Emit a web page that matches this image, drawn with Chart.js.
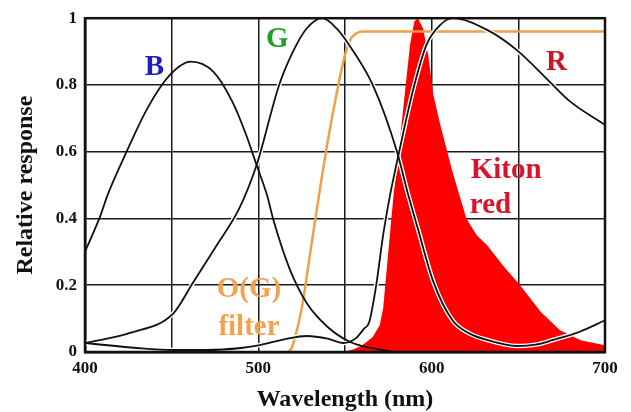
<!DOCTYPE html>
<html>
<head>
<meta charset="utf-8">
<script src="https://cdn.jsdelivr.net/npm/chart.js@4.4.0/dist/chart.umd.min.js"></script>
<style>
  html, body { margin: 0; padding: 0; background: #fff; }
</style>
</head>
<body>
<canvas id="spectra" width="631" height="412"></canvas>
<script>
// Camera channel sensitivities (B, G, R), O(G) filter and Kiton red emission
const bNm  = [400, 409, 413, 424, 436, 449, 461, 474, 485, 493, 499, 505, 509, 518, 528, 540, 553, 565, 578]
const bVal = [0.30, 0.41, 0.47, 0.60, 0.73, 0.83, 0.87, 0.84, 0.75, 0.65, 0.56, 0.47, 0.39, 0.25, 0.146, 0.075, 0.03, 0.012, 0.0]

const gNm  = [400, 426, 451, 462, 476, 489, 499, 512, 520, 528, 537, 545, 551, 566, 580, 586, 592, 601, 612, 622, 632, 649, 660, 670, 685, 700]
const gVal = [0.027, 0.057, 0.116, 0.205, 0.32, 0.43, 0.56, 0.80, 0.90, 0.97, 1.0, 0.97, 0.93, 0.80, 0.60, 0.48, 0.37, 0.21, 0.095, 0.055, 0.036, 0.018, 0.022, 0.036, 0.06, 0.095]

const rNm  = [400, 430, 451, 470, 490, 500, 515, 528, 540, 549, 556, 561, 564, 568, 572, 576, 580, 585, 590, 597, 605, 612, 632, 649, 668, 680, 700]
const rVal = [0.027, 0.012, 0.006, 0.006, 0.012, 0.02, 0.038, 0.048, 0.04, 0.027, 0.04, 0.07, 0.09, 0.2, 0.35, 0.47, 0.57, 0.69, 0.80, 0.92, 0.98, 1.0, 0.965, 0.905, 0.81, 0.75, 0.68]

const filterNm  = [517, 519, 521, 525, 530, 535, 540, 545, 550, 553, 556, 560, 700]
const filterVal = [0, 0.01, 0.04, 0.13, 0.30, 0.47, 0.63, 0.77, 0.89, 0.935, 0.953, 0.96, 0.96]

const kitonNm  = [549, 555, 560, 566, 570, 572, 575, 578, 581, 584, 587.5, 590, 592, 595, 598, 601, 605, 609, 612, 616, 620, 626, 632, 641, 651, 663, 674, 686, 700]
const kitonVal = [0, 0.008, 0.02, 0.045, 0.08, 0.13, 0.30, 0.47, 0.60, 0.75, 0.92, 0.99, 1.0, 0.97, 0.89, 0.77, 0.68, 0.60, 0.54, 0.47, 0.40, 0.35, 0.32, 0.26, 0.20, 0.12, 0.065, 0.035, 0.02]

const xTicks = [400, 500, 600, 700]

// text placed in data units: [text, nm, response, colour, align]
const notes = [
  ['B', 440, 0.83, '#1c1cc8', 'center'],
  ['G', 511, 0.914, '#1e9e2a', 'center'],
  ['R', 672, 0.845, '#cc1428', 'center'],
  ['Kiton', 622.5, 0.52, '#d9132b', 'left'],
  ['red', 622, 0.417, '#d9132b', 'left'],
  ['O(G)', 494.6, 0.166, '#f0a34e', 'center'],
  ['filter', 494.6, 0.052, '#f0a34e', 'center'],
]

const pts = (nm, val) => nm.map((x, i) => ({ x, y: val[i] }))
const serif = '"Liberation Serif", "Times New Roman", serif'

const line = (data, color, width, order) => ({
  data, borderColor: color, borderWidth: width, pointRadius: 0,
  fill: false, cubicInterpolationMode: 'monotone', order,
})

const frame = {
  id: 'frame',
  afterDraw(chart) {
    const { ctx, chartArea: a } = chart
    ctx.save()
    ctx.strokeStyle = '#111'
    ctx.lineWidth = 2.5
    ctx.strokeRect(a.left, a.top, a.right - a.left, a.bottom - a.top)
    ctx.restore()
  },
}

const annotate = {
  id: 'annotate',
  afterDraw(chart) {
    const { ctx, scales: { x, y } } = chart
    ctx.save()
    ctx.font = `bold 29px ${serif}`
    ctx.textBaseline = 'alphabetic'
    notes.forEach(([text, nm, v, color, align]) => {
      ctx.fillStyle = color
      ctx.textAlign = align
      ctx.fillText(text, x.getPixelForValue(nm), y.getPixelForValue(v))
    })
    ctx.restore()
  },
}

new Chart(document.getElementById('spectra'), {
  type: 'line',
  data: {
    datasets: [
      { data: pts(kitonNm, kitonVal), borderWidth: 0, borderColor: '#ff0000', backgroundColor: '#ff0000',
        fill: 'origin', pointRadius: 0, tension: 0, order: 10 },
      line(pts(filterNm, filterVal), '#f0a048', 2.5, 8),
      // white edge so the curves stay readable over the red fill
      line(pts(gNm, gVal), '#ffffff', 4.5, 6),
      line(pts(rNm, rVal), '#ffffff', 4.5, 6),
      line(pts(bNm, bVal), '#111', 1.8, 3),
      line(pts(gNm, gVal), '#111', 1.8, 2),
      line(pts(rNm, rVal), '#111', 1.8, 1),
    ],
  },
  options: {
    responsive: false,
    animation: false,
    layout: { padding: { top: 16, right: 26, left: 0, bottom: 0 } },
    plugins: { legend: { display: false }, tooltip: { enabled: false } },
    scales: {
      x: {
        type: 'linear', min: 400, max: 700, z: 1,
        afterFit: (s) => { s.height = 60 },
        grid: { color: '#1a1a1a', lineWidth: 1.5, drawTicks: false },
        border: { color: '#111', width: 2.5 },
        ticks: {
          stepSize: 50, autoSkip: false, padding: 6, color: '#111',
          font: { family: serif, size: 17, weight: 'bold' },
          callback: (v) => (xTicks.includes(v) ? String(v) : ''),
        },
        title: {
          display: true, text: 'Wavelength (nm)', color: '#111',
          font: { family: serif, size: 24, weight: 'bold', lineHeight: 1.0 },
          padding: { top: 0, bottom: 0 },
        },
      },
      y: {
        min: 0, max: 1, z: 1,
        afterFit: (s) => { s.width = 85 },
        grid: { color: '#1a1a1a', lineWidth: 1.5, drawTicks: false },
        border: { color: '#111', width: 2.5 },
        ticks: {
          stepSize: 0.2, padding: 8, color: '#111',
          font: { family: serif, size: 17, weight: 'bold' },
          callback: (v) => (v === 0 || v === 1 ? String(v) : v.toFixed(1)),
        },
        title: {
          display: true, text: 'Relative response', color: '#111',
          font: { family: serif, size: 24, weight: 'bold' },
          padding: { top: 11, bottom: 0 },
        },
      },
    },
  },
  plugins: [frame, annotate],
})
</script>
</body>
</html>
